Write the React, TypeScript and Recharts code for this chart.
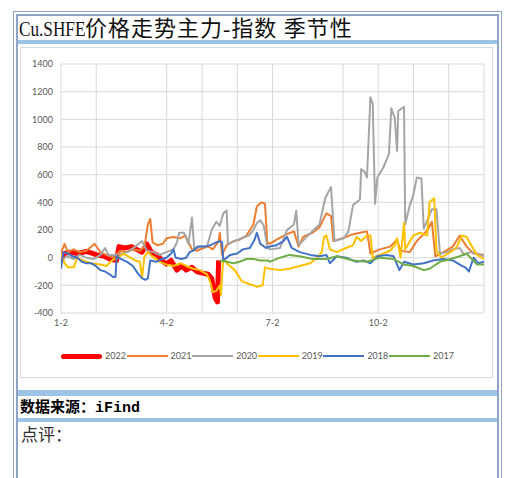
import React from "react";
import { CartesianGrid, Line, LineChart, XAxis, YAxis } from "recharts";

// Seasonal spread of the Cu SHFE main contract vs the index.
// Each point is [days since 1-2, value].
type Pt = [number, number];

const s2022: Pt[] = [
  [0, -20], [3, 30], [8, 40], [14, 30], [22, 45], [31, 20], [37, 10], [42, -10],
  [48, -20], [50, 80], [55, 70], [61, 80], [65, 60], [70, 40], [74, 100], [78, 40],
  [83, 20], [87, -20], [91, -45], [95, -20], [100, -90], [104, -60], [108, -90],
  [113, -70], [117, -100], [121, -110], [127, -120], [130, -150], [133, -290],
  [135, -320], [136, -20],
];

const s2021: Pt[] = [
  [0, 30], [3, 100], [6, 40], [11, 60], [16, 40], [22, 50], [29, 100], [34, 40],
  [39, 20], [45, 0], [51, 50], [57, 40], [62, 60], [68, 50], [72, 80], [75, 240],
  [77, 280], [79, 110], [83, 90], [88, 100], [91, 140], [97, 150], [103, 140],
  [107, 160], [110, 110], [113, 60], [117, 50], [123, 70], [127, 80], [131, 60],
  [136, 120], [137, 180], [139, 20], [143, 90], [149, 120], [154, 130], [160, 160],
  [166, 240], [169, 370], [173, 400], [176, 390], [178, 110], [180, 100], [186, 130],
  [195, 170], [201, 190], [205, 80], [209, 150], [217, 180], [223, 220], [229, 320],
  [233, 300], [235, 120], [243, 140], [252, 170], [258, 180], [264, 190], [267, 30],
  [275, 60], [284, 80], [290, 130], [293, 50], [301, 40], [307, 120], [313, 170],
  [317, 210], [320, 260], [323, 10], [330, 40], [338, 80], [344, 160], [350, 80],
  [356, 30], [365, 20],
];

const s2020: Pt[] = [
  [0, -20], [5, 10], [11, -10], [16, 20], [22, 0], [28, -10], [34, 20], [38, 70],
  [41, 20], [48, 20], [57, 40], [64, 80], [70, 120], [74, 50], [80, 40], [85, 20],
  [91, 40], [97, 60], [100, 110], [102, 180], [106, 180], [108, 150], [110, 100],
  [113, 290], [115, 60], [120, 80], [126, 80], [130, 200], [134, 260], [137, 230],
  [140, 320], [143, 340], [144, 100], [150, 120], [156, 140], [162, 160], [166, 200],
  [169, 250], [172, 270], [175, 230], [178, 80], [180, 60], [189, 70], [195, 200],
  [201, 240], [203, 340], [205, 90], [212, 150], [218, 200], [223, 240], [228, 430],
  [231, 480], [233, 510], [236, 120], [244, 140], [248, 190], [252, 380], [258, 420],
  [259, 640], [262, 620], [264, 580], [267, 1160], [269, 1110], [271, 390], [273, 580],
  [278, 650], [283, 750], [285, 1080], [288, 1010], [290, 770], [291, 1060],
  [296, 1090], [297, 240], [301, 380], [304, 450], [307, 580], [311, 570], [313, 210],
  [317, 290], [320, 350], [324, 350], [327, 30], [333, 40], [338, 60], [344, 70],
  [348, 20], [353, 40], [359, 30], [365, 10],
];

const s2019: Pt[] = [
  [0, 30], [3, -40], [6, -70], [11, -70], [14, 0], [19, -20], [26, -40], [34, -50],
  [39, -60], [44, -20], [49, 0], [54, 30], [58, 10], [64, -20], [68, -30], [70, -140],
  [72, 10], [75, 40], [80, 0], [85, -30], [91, -50], [97, -60], [103, -40], [108, -60],
  [114, -80], [120, -90], [126, -120], [129, -180], [131, -250], [134, -240],
  [137, -200], [138, -270], [140, 0], [144, -50], [150, -90], [156, -170], [162, -190],
  [166, -200], [169, -210], [174, -200], [176, -70], [180, -80], [189, -90],
  [197, -80], [206, -60], [215, -40], [221, 0], [225, 40], [227, 150], [229, 160],
  [232, 60], [238, 40], [246, 70], [252, 90], [255, 150], [259, 120], [264, 160],
  [267, 160], [269, 0], [275, 20], [284, 50], [288, 90], [290, 140], [293, 0],
  [296, 250], [297, 60], [304, 160], [310, 180], [316, 160], [318, 400], [322, 430],
  [324, 50], [328, 0], [336, 40], [341, 70], [346, 160], [350, 150], [354, 90],
  [359, 20], [365, -10],
];

const s2018: Pt[] = [
  [0, -80], [2, 40], [6, 30], [10, 10], [14, 0], [18, -30], [22, -40], [26, -40],
  [30, -60], [34, -90], [38, -100], [42, -120], [45, -140], [47, -140], [48, 10],
  [52, -10], [57, -30], [62, -60], [66, -110], [70, -150], [73, -160], [75, -150],
  [77, -20], [82, -30], [87, -10], [91, 0], [95, 30], [97, 60], [99, 0], [104, -10],
  [108, 0], [111, 40], [114, 50], [118, 80], [124, 80], [129, 90], [134, 110],
  [137, 120], [139, 110], [140, -20], [146, 20], [152, 30], [157, 60], [163, 70],
  [167, 130], [169, 180], [172, 100], [177, 70], [180, 80], [186, 90], [192, 120],
  [195, 150], [199, 70], [206, 40], [215, 20], [223, 10], [229, 20], [232, -40],
  [238, 10], [246, 0], [255, -30], [261, -20], [267, -40], [273, 10], [281, 20],
  [287, 10], [292, -90], [296, -30], [304, -50], [313, -40], [321, -20], [330, -10],
  [338, -20], [346, -60], [349, -70], [352, -100], [356, 0], [360, -40], [365, -30],
];

const s2017: Pt[] = [
  [137, -20], [143, -30], [149, -40], [154, -30], [160, -10], [166, -10], [172, -20],
  [179, -20], [180, -30], [189, 0], [197, 20], [206, 10], [217, -10], [229, -10],
  [238, 10], [252, -20], [264, -30], [275, 0], [287, -10], [296, -50], [304, -60],
  [313, -90], [318, -80], [327, -30], [336, -10], [344, 10], [350, 30], [359, -50],
  [365, -50],
];

const seriesNames = ["2022", "2021", "2020", "2019", "2018", "2017"];
const seriesData = [s2022, s2021, s2020, s2019, s2018, s2017];
const seriesColors = ["#FF0000", "#ED7D31", "#A5A5A5", "#FFC000", "#4472C4", "#70AD47"];

const yTicks = [-400, -200, 0, 200, 400, 600, 800, 1000, 1200, 1400];
// months (from 1-2) that carry a vertical gridline, and the ones that carry a label
const gridMonths = [0, 1, 3, 4, 5, 6, 8, 9, 10, 11, 12];
const monthLabels: Record<number, string> = { 0: "1-2", 3: "4-2", 6: "7-2", 9: "10-2" };

const DAYS = 365;
const xTicks = gridMonths.map((m) => (m * DAYS) / 12);

const FRAME = "#8FA3C4";
const BAND = "#9DC3E6";
const AXIS_FONT = "Lato, 'Liberation Sans', sans-serif";
const CJK_SERIF = "'Liberation Serif', 'Noto Sans CJK SC', serif";

export default function App() {
  return (
    <div
      style={{
        position: "absolute",
        left: 0,
        top: 0,
        width: 507,
        height: 478,
        background: "#fff",
        overflow: "hidden",
      }}
    >
      {/* outer table frame */}
      <div
        style={{
          position: "absolute",
          left: 13,
          top: 11,
          width: 481,
          height: 480,
          border: `4px double ${FRAME}`,
        }}
      />
      <div
        style={{
          position: "absolute",
          left: 17,
          top: 15,
          width: 479,
          height: 480,
          border: `1px solid ${FRAME}`,
        }}
      />

      {/* title */}
      <div
        style={{
          position: "absolute",
          left: 19,
          top: 17,
          fontSize: 22,
          lineHeight: "23px",
          letterSpacing: 1,
          fontFamily: CJK_SERIF,
          color: "#111",
          whiteSpace: "nowrap",
        }}
      >
        <span
          style={{
            display: "inline-block",
            width: 66,
            fontSize: 20,
            letterSpacing: 0,
            transform: "scaleX(0.86)",
            transformOrigin: "left",
          }}
        >
          Cu.SHFE
        </span>
        价格走势主力-指数 季节性
      </div>
      <div style={{ position: "absolute", left: 18, top: 40, width: 479, height: 4, background: BAND }} />

      {/* chart box */}
      <div
        style={{
          position: "absolute",
          left: 20,
          top: 47,
          width: 471,
          height: 329,
          border: "1px solid #D9D9D9",
          background: "#fff",
        }}
      />
      <div style={{ position: "absolute", left: 20, top: 47 }}>
        <LineChart width={472} height={330} margin={{ top: 17, right: 8, bottom: 34, left: 0 }}>
          <CartesianGrid stroke="#D9D9D9" strokeWidth={1} />
          <XAxis
            dataKey="d"
            type="number"
            domain={[0, DAYS]}
            ticks={xTicks}
            interval={0}
            allowDataOverflow
            axisLine={false}
            tickLine={false}
            tickSize={0}
            tickMargin={7}
            height={30}
            tick={{ fill: "#595959", fontSize: 9, fontFamily: AXIS_FONT }}
            tickFormatter={(v: number) => monthLabels[Math.round((v * 12) / DAYS)] ?? ""}
          />
          <YAxis
            type="number"
            domain={[-400, 1400]}
            ticks={yTicks}
            interval={0}
            axisLine={false}
            tickLine={false}
            tickSize={0}
            tickMargin={8}
            width={41}
            tick={{ fill: "#595959", fontSize: 9, fontFamily: AXIS_FONT }}
          />
          {seriesNames.map((name, i) => (
            <Line
              key={name}
              name={name}
              data={seriesData[i].map(([d, v]) => ({ d, v }))}
              dataKey="v"
              type="linear"
              stroke={seriesColors[i]}
              strokeWidth={i === 0 ? 5 : 2}
              strokeLinejoin="round"
              dot={false}
              activeDot={false}
              isAnimationActive={false}
            />
          ))}
        </LineChart>
      </div>

      {/* legend */}
      {seriesNames.map((name, i) => {
        const left = 61 + i * 65.6;
        return (
          <React.Fragment key={name}>
            <div
              style={{
                position: "absolute",
                left,
                top: i === 0 ? 354 : 355,
                width: 41,
                height: i === 0 ? 5 : 2,
                borderRadius: i === 0 ? 3 : 0,
                background: seriesColors[i],
              }}
            />
            <div
              style={{
                position: "absolute",
                left: left + 44,
                top: 350,
                fontSize: 9,
                lineHeight: "12px",
                fontFamily: AXIS_FONT,
                color: "#595959",
              }}
            >
              {name}
            </div>
          </React.Fragment>
        );
      })}

      {/* source + comment rows */}
      <div style={{ position: "absolute", left: 18, top: 390, width: 479, height: 6, background: BAND }} />
      <div
        style={{
          position: "absolute",
          left: 20,
          top: 400,
          fontSize: 15,
          lineHeight: "17px",
          fontWeight: 700,
          fontFamily: "'Liberation Mono', 'Noto Sans CJK SC', monospace",
          color: "#000",
          whiteSpace: "nowrap",
        }}
      >
        数据来源：iFind
      </div>
      <div style={{ position: "absolute", left: 18, top: 418, width: 479, height: 4, background: BAND }} />
      <div
        style={{
          position: "absolute",
          left: 21,
          top: 426,
          fontSize: 17,
          lineHeight: "20px",
          fontFamily: CJK_SERIF,
          color: "#333",
          whiteSpace: "nowrap",
        }}
      >
        点评：
      </div>
    </div>
  );
}
